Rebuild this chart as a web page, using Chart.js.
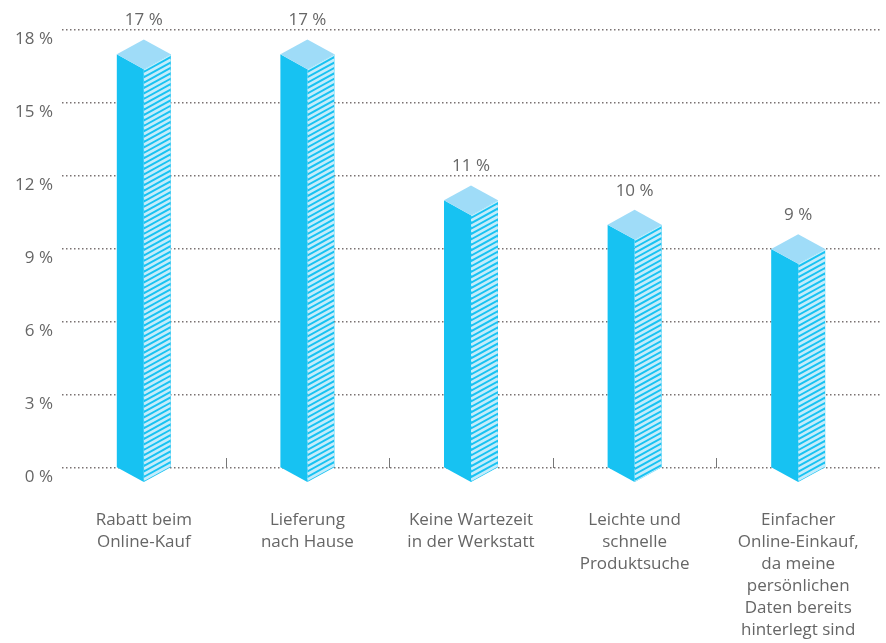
<!DOCTYPE html>
<html>
<head>
<meta charset="utf-8">
<style>
  body { margin: 0; background: #fff; }
  #wrap { width: 886px; height: 643px; }
</style>
</head>
<body>
<div id="wrap">
  <canvas id="myChart" width="886" height="643"></canvas>
</div>

<script src="https://cdn.jsdelivr.net/npm/chart.js"></script>
<script>
const categories = [
  ['Rabatt beim', 'Online-Kauf'],
  ['Lieferung', 'nach Hause'],
  ['Keine Wartezeit', 'in der Werkstatt'],
  ['Leichte und', 'schnelle', 'Produktsuche'],
  ['Einfacher', 'Online-Einkauf,', 'da meine', 'persönlichen', 'Daten bereits', 'hinterlegt sind']
];
const shares = [17, 17, 11, 10, 9];
const yTicks = [0, 3, 6, 9, 12, 15, 18];

const FRONT = '#17c2f2';
const TOP = '#9fdcf8';
const STRIPE = '#c4ecfb';
const TEXT = '#666666';
const FONT = '"Open Sans", sans-serif';

// draws the bars as little isometric boxes, plus value labels and the axis notches
const boxBars = {
  id: 'boxBars',
  afterDatasetsDraw(chart) {
    const ctx = chart.ctx;
    const meta = chart.getDatasetMeta(0);
    const xs = chart.scales.x;
    const area = chart.chartArea;

    ctx.save();
    // small notches between categories on the zero line
    ctx.strokeStyle = '#777';
    ctx.lineWidth = 1;
    for (let i = 1; i < categories.length; i++) {
      const bx = Math.round((xs.getPixelForValue(i - 1) + xs.getPixelForValue(i)) / 2) + 0.5;
      ctx.beginPath();
      ctx.moveTo(bx, area.bottom);
      ctx.lineTo(bx, area.bottom - 10);
      ctx.stroke();
    }

    meta.data.forEach((bar, i) => {
      const p = bar.getProps(['x', 'y', 'base', 'width'], true);
      const h = p.width / 2;
      const d = h * 0.55;
      const l = p.x - h, r = p.x + h, c = p.x;

      // front face
      ctx.fillStyle = FRONT;
      ctx.beginPath();
      ctx.moveTo(l, p.y);
      ctx.lineTo(c, p.y + d);
      ctx.lineTo(c, p.base + d);
      ctx.lineTo(l, p.base);
      ctx.closePath();
      ctx.fill();

      // side face, hatched
      ctx.save();
      ctx.beginPath();
      ctx.moveTo(c, p.y + d);
      ctx.lineTo(r, p.y);
      ctx.lineTo(r, p.base);
      ctx.lineTo(c, p.base + d);
      ctx.closePath();
      ctx.fillStyle = FRONT;
      ctx.fill();
      ctx.clip();
      ctx.strokeStyle = STRIPE;
      ctx.lineWidth = 2.8;
      for (let yy = p.y; yy < p.base + d * 2 + 6; yy += 5.4) {
        ctx.beginPath();
        ctx.moveTo(c, yy + d);
        ctx.lineTo(r, yy);
        ctx.stroke();
      }
      ctx.restore();

      // top face
      ctx.fillStyle = TOP;
      ctx.beginPath();
      ctx.moveTo(l, p.y);
      ctx.lineTo(c, p.y - d);
      ctx.lineTo(r, p.y);
      ctx.lineTo(c, p.y + d);
      ctx.closePath();
      ctx.fill();

      // value label
      ctx.fillStyle = TEXT;
      ctx.font = '17px ' + FONT;
      ctx.textAlign = 'center';
      ctx.textBaseline = 'middle';
      ctx.fillText(shares[i] + ' %', c, p.y - d - 19);
    });
    ctx.restore();
  }
};

const ctx = document.getElementById('myChart').getContext('2d');
new Chart(ctx, {
  type: 'bar',
  data: {
    labels: categories,
    datasets: [{
      data: shares,
      backgroundColor: 'rgba(0,0,0,0)',
      borderWidth: 0,
      barPercentage: 0.33,
      categoryPercentage: 1
    }]
  },
  options: {
    responsive: false,
    animation: false,
    layout: { padding: { top: 30, right: 6, left: 0, bottom: 0 } },
    plugins: {
      legend: { display: false },
      tooltip: { enabled: false }
    },
    scales: {
      x: {
        grid: { display: false },
        border: { display: false },
        ticks: {
          color: TEXT,
          font: { family: FONT, size: 17, lineHeight: 1.3 },
          padding: 33,
          maxRotation: 0,
          autoSkip: false
        },
        afterFit(scale) {
          scale.height = 175;
          scale.paddingLeft = 0;
          scale.paddingRight = 0;
        }
      },
      y: {
        min: 0,
        max: 18,
        afterBuildTicks(scale) { scale.ticks = yTicks.map(v => ({ value: v })); },
        grid: {
          color: '#7a7272',
          lineWidth: 1.5,
          drawTicks: false
        },
        border: { display: false, dash: [1.5, 2.5] },
        ticks: {
          color: TEXT,
          font: { family: FONT, size: 17 },
          padding: 9,
          labelOffset: 9,
          callback: v => v + ' %'
        },
        afterFit(scale) {
          scale.width = 62;
          scale.paddingTop = 0;
          scale.paddingBottom = 0;
        }
      }
    }
  },
  plugins: [boxBars]
});
</script>
</body>
</html>
